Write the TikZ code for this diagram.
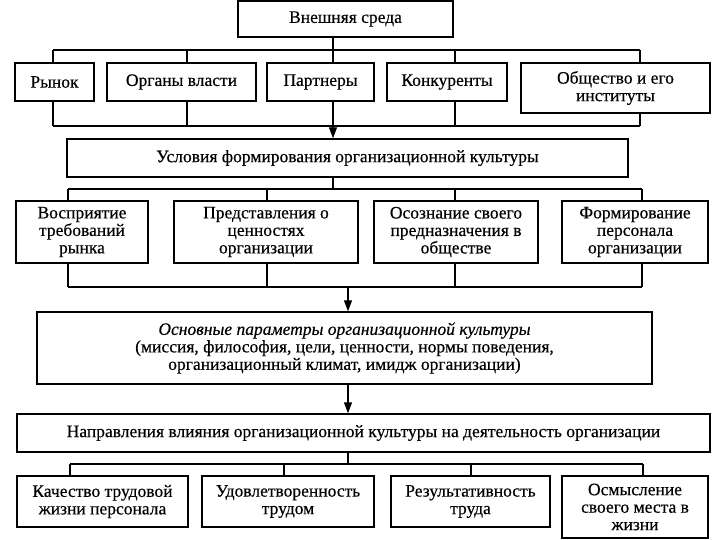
\documentclass[tikz,border=0pt]{standalone}
\usepackage{fontspec}
\setmainfont{Liberation Serif}[FakeBold=0.4]
\usetikzlibrary{arrows.meta}
\begin{document}
\begin{tikzpicture}[x=1pt,y=-1pt,
  box/.style={draw, line width=1.4pt, align=center, inner sep=1pt, font=\fontsize{17.5}{17.5}\selectfont},
  conn/.style={line width=1.3pt},
  arr/.style={conn,-{Triangle[width=8pt,length=11pt]}}]
\useasboundingbox (0,0) rectangle (720,540);
\fill[white] (0,0) rectangle (720,540);
% boxes
\node[box, minimum width=215pt, minimum height=36pt] (top) at (345.5,19) {Внешняя среда};
\node[box, minimum width=79pt, minimum height=38pt] (rynok) at (54.5,82) {Рынок};
\node[box, minimum width=149pt, minimum height=38pt] (organy) at (181.5,82) {Органы власти};
\node[box, minimum width=107pt, minimum height=38pt] (partn) at (320.5,82) {Партнеры};
\node[box, minimum width=120pt, minimum height=38pt] (konk) at (447,82) {Конкуренты};
\node[box, minimum width=189pt, minimum height=50pt] (obsh) at (615.5,88) {Общество и его\\институты};
\node[box, minimum width=561pt, minimum height=38pt] (usl) at (347.5,158) {Условия формирования организационной культуры};
\node[box, minimum width=132pt, minimum height=62pt] (vospr) at (82,232) {Восприятие\\требований\\рынка};
\node[box, minimum width=184pt, minimum height=62pt] (predst) at (266,232) {Представления о\\ценностях\\организации};
\node[box, minimum width=164pt, minimum height=62pt] (osozn) at (456,232) {Осознание своего\\предназначения в\\обществе};
\node[box, minimum width=146pt, minimum height=62pt] (form) at (635,232) {Формирование\\персонала\\организации};
\node[box, minimum width=615pt, minimum height=72pt] (osn) at (344.5,348) {\textit{Основные параметры организационной культуры}\\(миссия, философия, цели, ценности, нормы поведения,\\организационный климат, имидж организации)};
\node[box, minimum width=693pt, minimum height=38pt] (napr) at (363.5,433) {Направления влияния организационной культуры на деятельность организации};
\node[box, minimum width=171pt, minimum height=51pt] (kach) at (102.5,501.5) {Качество трудовой\\жизни персонала};
\node[box, minimum width=172pt, minimum height=51pt] (udov) at (288,501.5) {Удовлетворенность\\трудом};
\node[box, minimum width=159pt, minimum height=51pt] (rez) at (470.5,501.5) {Результативность\\труда};
\node[box, minimum width=146pt, minimum height=62pt] (osm) at (635,507) {Осмысление\\своего места в\\жизни};
% row 1 junctions
\coordinate (u1) at (53,50); \coordinate (u2) at (187,50); \coordinate (u3) at (333,50);
\coordinate (u4) at (455,50); \coordinate (u5) at (640,50);
\coordinate (d1) at (53,126); \coordinate (d2) at (187,126); \coordinate (d3) at (333,126);
\coordinate (d4) at (455,126); \coordinate (d5) at (640,126);
\draw[conn] (top.south -| u3) -- (u3);
\draw[conn] (u1) -- (u5);
\draw[conn] (d1) -- (d5);
\draw[conn] (u1) -- (u1 |- rynok.north);
\draw[conn] (u2) -- (u2 |- organy.north);
\draw[conn] (u3) -- (u3 |- partn.north);
\draw[conn] (u4) -- (u4 |- konk.north);
\draw[conn] (u5) -- (u5 |- obsh.north);
\draw[conn] (rynok.south -| d1) -- (d1);
\draw[conn] (organy.south -| d2) -- (d2);
\draw[conn] (partn.south -| d3) -- (d3);
\draw[conn] (konk.south -| d4) -- (d4);
\draw[conn] (obsh.south -| d5) -- (d5);
\draw[arr] (d3) -- (d3 |- usl.north);
% row 2 junctions
\coordinate (m0) at (333,189);
\coordinate (v1) at (68,189); \coordinate (v2) at (267,189); \coordinate (v3) at (455,189); \coordinate (v4) at (642,189);
\coordinate (w1) at (68,287); \coordinate (w2) at (267,287); \coordinate (w3) at (455,287); \coordinate (w4) at (642,287);
\coordinate (w0) at (348,287);
\draw[conn] (usl.south -| m0) -- (m0);
\draw[conn] (v1) -- (v4);
\draw[conn] (w1) -- (w4);
\draw[conn] (v1) -- (v1 |- vospr.north);
\draw[conn] (v2) -- (v2 |- predst.north);
\draw[conn] (v3) -- (v3 |- osozn.north);
\draw[conn] (v4) -- (v4 |- form.north);
\draw[conn] (vospr.south -| w1) -- (w1);
\draw[conn] (predst.south -| w2) -- (w2);
\draw[conn] (osozn.south -| w3) -- (w3);
\draw[conn] (form.south -| w4) -- (w4);
\draw[arr] (w0) -- (w0 |- osn.north);
\draw[arr] (osn.south -| w0) -- (w0 |- napr.north);
% row 4 junctions
\coordinate (n0) at (348,464);
\coordinate (k1) at (70,464); \coordinate (k2) at (284,464); \coordinate (k3) at (471,464); \coordinate (k4) at (643,464);
\draw[conn] (napr.south -| n0) -- (n0);
\draw[conn] (k1) -- (k4);
\draw[conn] (k1) -- (k1 |- kach.north);
\draw[conn] (k2) -- (k2 |- udov.north);
\draw[conn] (k3) -- (k3 |- rez.north);
\draw[conn] (k4) -- (k4 |- osm.north);
\end{tikzpicture}
\end{document}
